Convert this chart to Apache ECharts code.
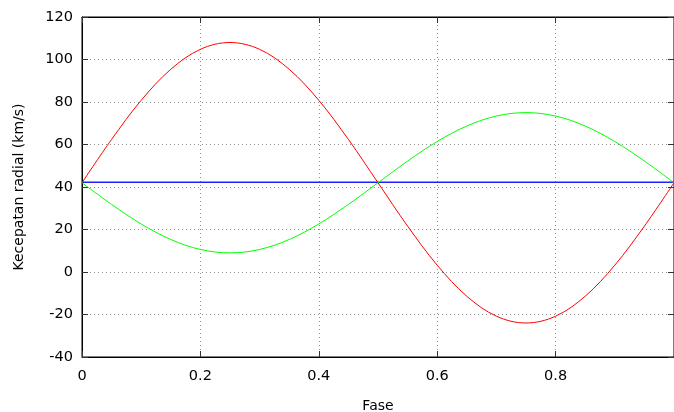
<!DOCTYPE html>
<html><head><meta charset="utf-8">
<script src="https://cdn.jsdelivr.net/npm/echarts@6/dist/echarts.min.js"></script>
<style>html,body{margin:0;padding:0;background:#fff}#c{width:674px;height:412px}</style>
</head><body><div id="c"></div>
<script>
const phase = [0,0.05,0.1,0.15,0.2,0.25,0.3,0.35,0.4,0.45,0.5,0.55,0.6,0.65,0.7,0.75,0.8,0.85,0.9,0.95,1.0];
const redVals = [42,62.4,80.8,95.4,104.8,108,104.8,95.4,80.8,62.4,42,21.6,3.2,-11.4,-20.8,-24,-20.8,-11.4,3.2,21.6,42];
const greenVals = [42,31.8,22.6,15.3,10.6,9,10.6,15.3,22.6,31.8,42,52.2,61.4,68.7,73.4,75,73.4,68.7,61.4,52.2,42];
const blueVals = [42.2,42.2];
const bluePhase = [0,1];
const xTicks = [0,0.2,0.4,0.6,0.8];
const yTicks = [-40,-20,0,20,40,60,80,100,120];

const font = 'DejaVu Sans';
const chart = echarts.init(document.getElementById('c'));
const pair = (xs, ys) => xs.map((x,i)=>[x, ys[i]]);
const split = {show:true, lineStyle:{color:'#909090', type:[1,3], width:1}};
chart.setOption({
  animation:false,
  grid:{left:82, right:0, top:17, bottom:55, containLabel:false, outerBoundsMode:'none',
    show:true, borderColor:'#000', borderWidth:1, backgroundColor:'transparent'},
  xAxis:[{type:'value', min:0, max:1, interval:0.2, position:'bottom',
    name:'Fase', nameLocation:'middle', nameGap:42, nameTextStyle:{fontFamily:font, fontSize:14, color:'#000'},
    axisLine:{show:true, onZero:false, lineStyle:{color:'#000', width:1}},
    axisTick:{show:true, inside:true, length:6, lineStyle:{color:'#333'}},
    axisLabel:{fontFamily:font, fontSize:14.5, color:'#000', margin:12,
      formatter:v=> xTicks.some(t=>Math.abs(t-v)<1e-9) ? String(+v.toFixed(1)) : ''},
    splitLine:split},
    {type:'value', min:0, max:1, interval:0.2, position:'top',
    axisLine:{show:true, onZero:false, lineStyle:{color:'#000'}},
    axisTick:{show:true, inside:true, length:6, lineStyle:{color:'#333'}},
    axisLabel:{show:false}, splitLine:{show:false}}],
  yAxis:[{type:'value', min:-40, max:120, interval:20, position:'left',
    name:'Kecepatan radial (km/s)', nameLocation:'middle', nameGap:56, nameRotate:90,
    nameTextStyle:{fontFamily:font, fontSize:14, color:'#000'},
    axisLine:{show:true, onZero:false, lineStyle:{color:'#000'}},
    axisTick:{show:true, inside:true, length:6, lineStyle:{color:'#333'}},
    axisLabel:{fontFamily:font, fontSize:14.5, color:'#000', margin:9,
      formatter:v=> yTicks.includes(v) ? String(v) : ''},
    splitLine:split},
    {type:'value', min:-40, max:120, interval:20, position:'right',
    axisLine:{show:true, onZero:false, lineStyle:{color:'#000'}},
    axisTick:{show:true, inside:true, length:6, lineStyle:{color:'#333'}},
    axisLabel:{show:false}, splitLine:{show:false}}],
  series:[
    {type:'line', data:pair(phase, redVals), smooth:0.35, showSymbol:false, lineStyle:{color:'#ff0000', width:1}, z:3},
    {type:'line', data:pair(phase, greenVals), smooth:0.35, showSymbol:false, lineStyle:{color:'#00ff00', width:1}, z:3},
    {type:'line', data:pair(bluePhase, blueVals), showSymbol:false, lineStyle:{color:'#2020ff', width:1.5}, z:2}
  ]
});
</script></body></html>
